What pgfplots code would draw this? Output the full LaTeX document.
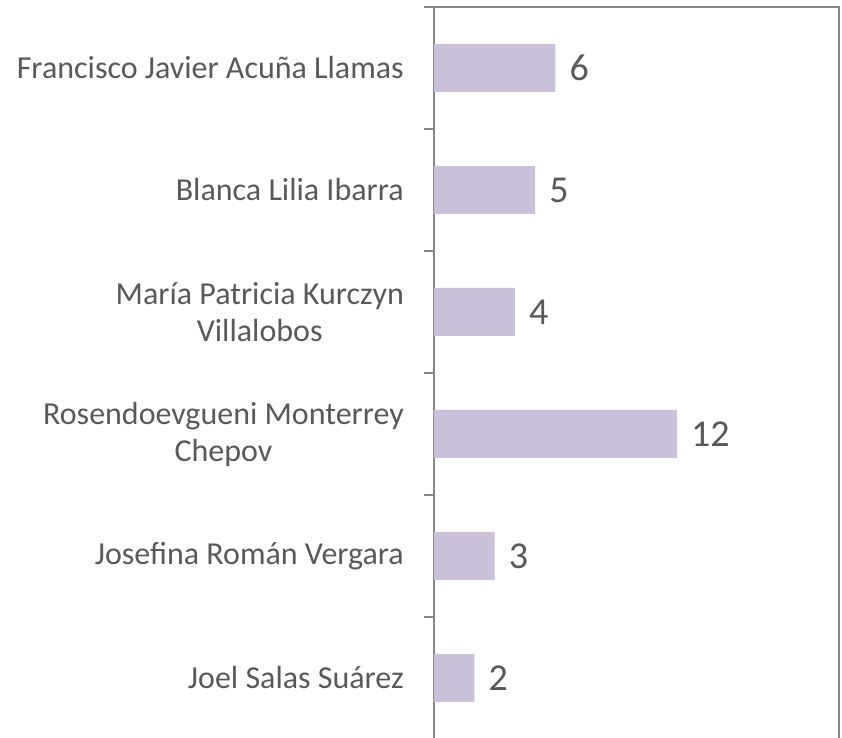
\documentclass[border=0pt]{standalone}
\usepackage{pgfplots}
\pgfplotsset{compat=1.18}
\usepackage{fontspec}
\setmainfont{Carlito}
\definecolor{barc}{RGB}{204,193,218}
\definecolor{txt}{RGB}{89,89,89}
\definecolor{axc}{RGB}{134,134,134}
\begin{document}
\begin{tikzpicture}
\begin{axis}[
  xbar,
  scale only axis,
  width=405pt, height=732pt,
  xmin=0, xmax=20,
  ymin=-0.5, ymax=5.5,
  bar width=48pt,
  axis line style={draw=axc, line width=1.5pt},
  xtick=\empty,
  ytick={0,1,2,3,4,5},
  yticklabels={Joel Salas Suárez, Josefina Román Vergara, {Rosendoevgueni Monterrey\\Chepov}, {María Patricia Kurczyn\\Villalobos}, Blanca Lilia Ibarra, Francisco Javier Acuña Llamas},
  minor ytick={-0.5,0.5,1.5,2.5,3.5,4.5,5.5},
  major tick length=0pt,
  minor tick length=10pt,
  tick align=outside,
  ytick pos=left,
  tick style={draw=axc, line width=1.5pt},
  yticklabel style={align=center, font=\fontsize{32pt}{37pt}\selectfont, text=txt, inner sep=0pt, xshift=-30pt},
  /pgf/number format/assume math mode=true,
  nodes near coords,
  nodes near coords style={font=\fontsize{38pt}{45pt}\selectfont, text=txt, anchor=west, inner sep=0pt, xshift=14pt},
]
\addplot[fill=barc, draw=none] coordinates {(2,0) (3,1) (12,2) (4,3) (5,4) (6,5)};
\coordinate (tl) at (rel axis cs:0,1);
\end{axis}
\pgfresetboundingbox
\path ([shift={(-434pt,7pt)}]tl) rectangle ([shift={(408pt,-730pt)}]tl);
\end{tikzpicture}
\end{document}
